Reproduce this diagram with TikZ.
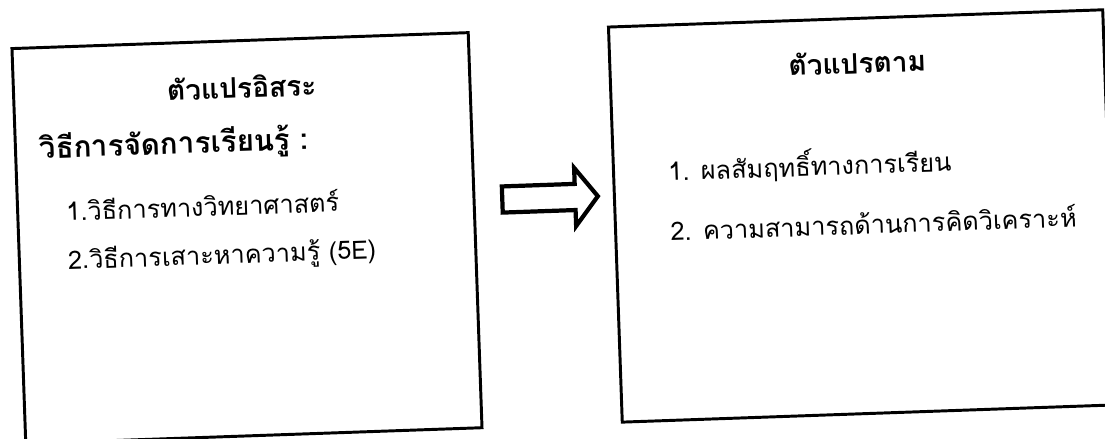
\documentclass[tikz,border=0pt]{standalone}
\usepackage{fontspec}
\newfontfamily\thaifont[Script=Thai]{Loma}
\usetikzlibrary{shapes.arrows}

\begin{document}
\begin{tikzpicture}[x=0.025cm, y=0.025cm, font=\thaifont,
  frame/.style={draw, line width=2.1pt, minimum height=9.88cm},
  heading/.style={font=\thaifont\bfseries\fontsize{20}{24}\selectfont},
  entry/.style={anchor=west, font=\thaifont\fontsize{18}{22}\selectfont}]
\def \tilt {2}
\useasboundingbox (0,0) rectangle (1105,439);
\begin{scope}[rotate around={\tilt:(552,220)}, transform shape]
\node[frame, minimum width=11.41cm] at (246.5,211.5) (indep) {};
\node[frame, minimum width=12.36cm] at (862.4,212.2) (dep) {};
\node[draw, single arrow, line width=3pt, inner xsep=0pt, inner ysep=7.8pt, minimum height=68pt, minimum width=38.4pt,
  single arrow head extend=11.4pt, single arrow tip angle=104] at (545.7,241.2) (link) {};
\node[heading] at (246.5,363) (indep-title) {ตัวแปรอิสระ};
\node[entry, font=\thaifont\bfseries\fontsize{21}{25}\selectfont] at (37,307) (method) {วิธีการจัดการเรียนรู้ :};
\node[entry] at (62,246) (method-a) {1.วิธีการทางวิทยาศาสตร์};
\node[entry] at (62,194) (method-b) {2.วิธีการเสาะหาความรู้ (5E)};
\node[heading] at (862.5,366) (dep-title) {ตัวแปรตาม};
\node[entry] at (665,265) (dep-a) {1. ผลสัมฤทธิ์ทางการเรียน};
\node[entry] at (665,205) (dep-b) {2. ความสามารถด้านการคิดวิเคราะห์};
\end{scope}
\end{tikzpicture}
\end{document}
